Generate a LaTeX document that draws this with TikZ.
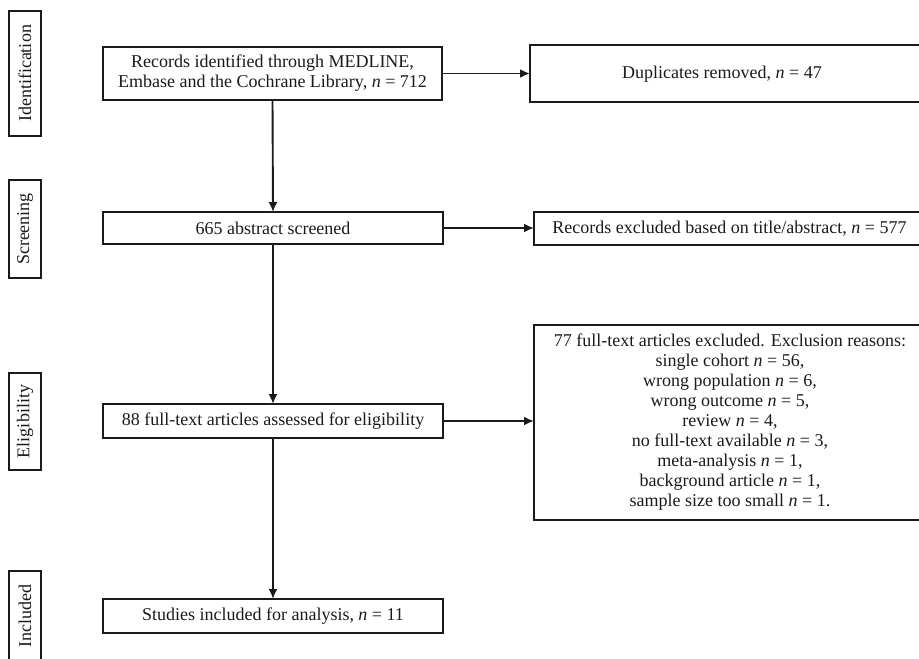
\documentclass[tikz,border=0pt]{standalone}
\usepackage{fontspec}
\setmainfont{Liberation Serif}
\usetikzlibrary{arrows.meta}
\definecolor{ink}{HTML}{1A1A1A}
\begin{document}
\begin{tikzpicture}[x=1pt,y=-1pt,
  txt/.style={font=\fontsize{18}{20}\selectfont, align=center, inner sep=0pt, text=ink},
  box/.style={draw=ink, line width=1.9pt, inner sep=0pt, outer sep=0pt, rectangle},
  side/.style={box, rotate=90, minimum width=#1, minimum height=32pt},
  arr/.style={draw=ink, line width=1.9pt, -{Latex[length=10pt,width=9pt]}}
]
\useasboundingbox (0,0) rectangle (919,659);
\clip (0,0) rectangle (919,659);

% stage labels
\node[side=125pt, txt] (sid) at (25,73.5) {Identification};
\node[side=98pt, txt] (sscr) at (25,229) {Screening};
\node[side=97pt, txt] (selig) at (25,421.5) {Eligibility};
\node[side=90pt, txt] (sinc) at (25,616) {Included};

% main column
\node[box, txt, minimum width=339pt, minimum height=53pt] (A) at (272.5,73.5)
  {Records identified through MEDLINE,\\Embase and the Cochrane Library, \textit{n} = 712};
\node[box, txt, minimum width=340pt, minimum height=32pt] (B) at (273,228)
  {665 abstract screened};
\node[box, txt, minimum width=340pt, minimum height=34pt] (C) at (273,421)
  {88 full-text articles assessed for eligibility};
\node[box, txt, minimum width=340pt, minimum height=34pt] (D) at (273,616)
  {Studies included for analysis, \textit{n} = 11};

% right column (boxes run past the right edge)
\node[box, minimum width=396pt, minimum height=57pt] (dup) at (728,73.5) {};
\node[txt] (duptxt) at (722,74) {Duplicates removed, \textit{n} = 47};
\node[box, minimum width=392pt, minimum height=33pt] (ex1) at (730,228.5) {};
\node[txt] (ex1txt) at (729.5,229) {Records excluded based on title/abstract, \textit{n} = 577};
\node[box, minimum width=392pt, minimum height=195pt] (ex2) at (730,422.5) {};
\node[txt] (ex2txt) at (730,422) {77 full-text articles excluded. Exclusion reasons:\\
  single cohort \textit{n} = 56,\\
  wrong population \textit{n} = 6,\\
  wrong outcome \textit{n} = 5,\\
  review \textit{n} = 4,\\
  no full-text available \textit{n} = 3,\\
  meta-analysis \textit{n} = 1,\\
  background article \textit{n} = 1,\\
  sample size too small \textit{n} = 1.};

% connectors
\draw[arr] (A.south) -- (B.north);
\draw[arr] (B.south) -- (C.north);
\draw[arr] (C.south) -- (D.north);
\draw[arr] (A.east) -- (dup.west |- A.east);
\draw[arr] (B.east) -- (ex1.west |- B.east);
\draw[arr] (C.east) -- (ex2.west |- C.east);
\end{tikzpicture}
\end{document}
